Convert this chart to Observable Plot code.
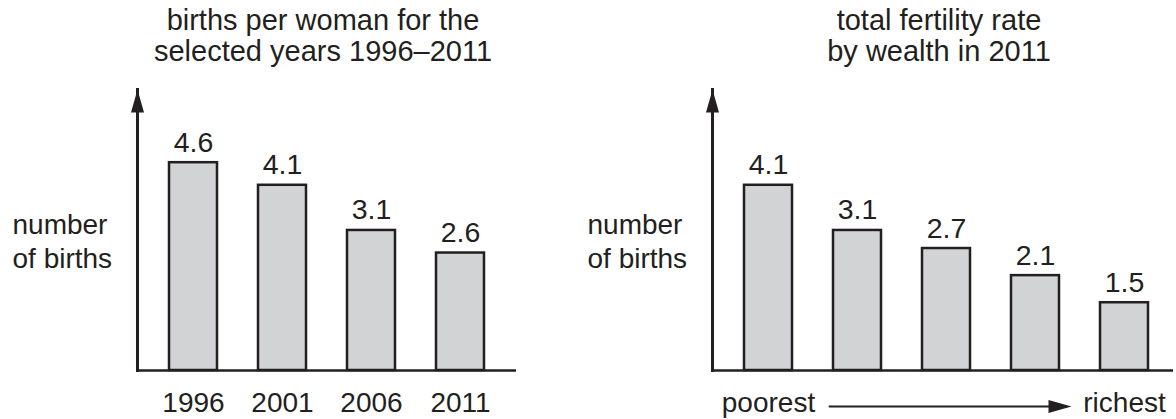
<!DOCTYPE html>
<html>
<head>
<meta charset="utf-8">
<script src="https://cdn.jsdelivr.net/npm/d3@7"></script>
<script src="https://cdn.jsdelivr.net/npm/@observablehq/plot@0.6"></script>
<style>
  html, body { margin: 0; padding: 0; background: #fff; }
  #chart { position: relative; width: 1176px; height: 419px; font-family: "Liberation Sans", Arial, Helvetica, sans-serif; color: #231f20; overflow: hidden; }
  .title { position: absolute; top: 5px; text-align: center; font-size: 29px; line-height: 31px; white-space: nowrap; }
  .panel { position: absolute; top: 0; }
</style>
</head>
<body>
<div id="chart">
  <div class="panel" id="left"></div>
  <div class="panel" id="right" style="left:588px"></div>
  <div class="title" style="left:0px;width:646px">births per woman for the<br>selected years 1996–2011</div>
  <div class="title" style="left:702px;width:474px">total fertility rate<br>by wealth in 2011</div>
</div>
<script>
// ---- data ----
const years = ["1996", "2001", "2006", "2011"];
const birthsPerWoman = [4.6, 4.1, 3.1, 2.6];
const wealthGroups = ["poorest", "poorer", "middle", "richer", "richest"];
const fertilityByWealth = [4.1, 3.1, 2.7, 2.1, 1.5];
const wealthTickLabels = ["poorest", "richest"];
const yAxisLabel = "number\nof births";

// ---- styles ----
const ink = "#231f20";
const barFill = "#d1d3d4";
const fontFamily = "'Liberation Sans', Arial, Helvetica, sans-serif";
const fmt = d3.format(".1f");
const yMax = 6.22;

// elongated filled arrowhead, tip at origin, pointing up
const arrowHead = {
  draw(ctx) {
    ctx.moveTo(0, 0);
    ctx.lineTo(-6.5, 23);
    ctx.lineTo(6.5, 23);
    ctx.closePath();
  }
};

const leftData = years.map((k, i) => ({cat: k, value: birthsPerWoman[i]}));
const rightData = wealthGroups.map((k, i) => ({cat: k, value: fertilityByWealth[i]}));

function commonMarks(data) {
  return [
    Plot.barY(data, {x: "cat", y: "value", fill: barFill, stroke: ink, strokeWidth: 2.5}),
    Plot.ruleY([0], {stroke: ink, strokeWidth: 2.5}),
    Plot.frame({anchor: "left", stroke: ink, strokeWidth: 3}),
    Plot.dot([0], {frameAnchor: "top-left", symbol: arrowHead, r: 5, fill: ink, stroke: "none"}),
    Plot.text(data, {x: "cat", y: "value", text: d => fmt(d.value), dy: -11, lineAnchor: "bottom", fontSize: 28.5, fill: ink}),
    Plot.text([yAxisLabel], {frameAnchor: "left", textAnchor: "start", dx: -125, dy: 10, lineHeight: 34 / 28, fontSize: 28, fill: ink})
  ];
}

const left = Plot.plot({
  width: 588,
  height: 419,
  marginLeft: 137,
  marginRight: 72,
  marginTop: 89,
  marginBottom: 49,
  style: {fontFamily, fontSize: "28px", color: ink, background: "transparent", overflow: "visible"},
  x: {domain: years, paddingInner: 0.459, paddingOuter: 0.349, label: null},
  y: {domain: [0, yMax], axis: null},
  marks: [
    ...commonMarks(leftData),
    Plot.axisX({tickSize: 0, tickPadding: 22, fontSize: 28, fill: ink, label: null})
  ]
});

const right = Plot.plot({
  width: 588,
  height: 419,
  marginLeft: 124,
  marginRight: 3,
  marginTop: 89,
  marginBottom: 49,
  style: {fontFamily, fontSize: "28px", color: ink, background: "transparent", overflow: "visible"},
  x: {domain: wealthGroups, paddingInner: 0.463, paddingOuter: 0.308, align: 0.564, label: null},
  y: {domain: [0, yMax], axis: null},
  marks: [
    ...commonMarks(rightData),
    Plot.axisX({ticks: wealthTickLabels, tickSize: 0, tickPadding: 22, fontSize: 28, fill: ink, label: null}),
    Plot.arrow([0], {
      x1: () => wealthGroups[0], x2: () => wealthGroups[wealthGroups.length - 1],
      y1: () => 0, y2: () => 0, dy: 36,
      insetStart: 61, insetEnd: 70, headLength: 0, stroke: ink, strokeWidth: 2
    }),
    Plot.dot([0], {
      x: () => wealthGroups[wealthGroups.length - 1], y: () => 0,
      dx: -53, dy: 36, rotate: 90, symbol: arrowHead, r: 5, fill: ink, stroke: "none"
    })
  ]
});

document.getElementById("left").appendChild(left);
document.getElementById("right").appendChild(right);
</script>
</body>
</html>
